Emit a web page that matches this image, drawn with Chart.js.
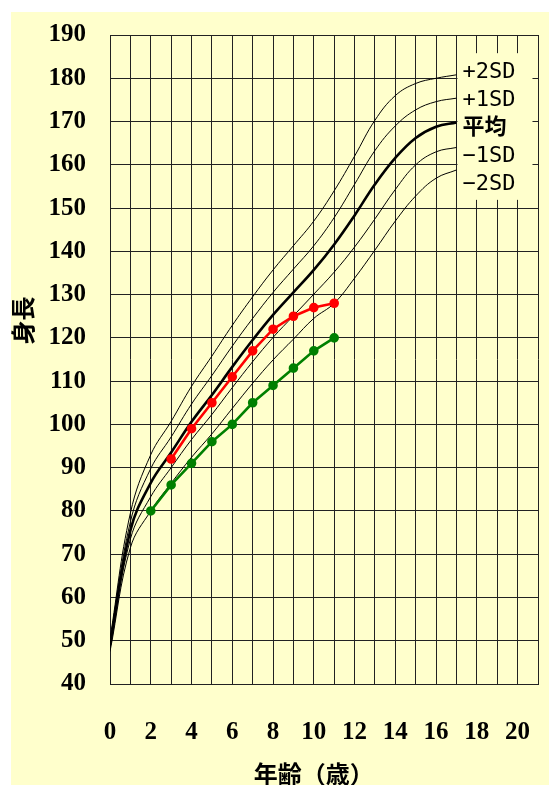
<!DOCTYPE html>
<html lang="ja">
<head>
<meta charset="utf-8">
<title>身長</title>
<script src="https://cdn.jsdelivr.net/npm/chart.js@4/dist/chart.umd.min.js"></script>
<style>
    html, body { margin: 0; padding: 0; background: #fff; }
    #wrap { position: absolute; left: 11px; top: 12px; width: 538px; height: 773px; background: #ffffcc; }
</style>
</head>
<body>
<div id="wrap"><canvas id="canvas"></canvas></div>
<script>
// Age (years) for the reference curves
const ages = [0, 1, 2, 3, 4, 5, 6, 7, 8, 9, 10, 11, 12, 13, 14, 15, 16, 17]

// Reference curves, cm
const plus2sd = [50.5, 79.5, 93.0, 100.7, 108.8, 115.8, 122.9, 129.5, 135.7, 141.3, 147.0, 154.0, 162.0, 170.3, 176.0, 178.8, 180.0, 180.8]
const plus1sd = [49.8, 77.5, 89.8, 97.1, 104.7, 111.3, 118.1, 124.5, 130.5, 135.9, 141.3, 147.8, 155.5, 163.3, 169.0, 172.7, 174.6, 175.4]
const average = [49.0, 75.5, 86.5, 93.5, 100.6, 106.8, 113.3, 119.5, 125.3, 130.5, 135.7, 141.6, 148.3, 155.5, 161.6, 166.2, 168.8, 169.8]
const minus1sd = [48.2, 73.5, 83.3, 90.0, 96.5, 102.3, 108.5, 114.5, 120.1, 125.1, 130.1, 135.2, 141.0, 147.5, 154.3, 160.0, 163.0, 164.0]
const minus2sd = [47.5, 71.5, 80.0, 86.4, 92.4, 97.8, 103.7, 109.5, 114.9, 119.7, 124.5, 128.0, 133.8, 140.3, 147.0, 152.8, 156.9, 158.8]

// Measured children
const redAges = [3, 4, 5, 6, 7, 8, 9, 10, 11]
const redHeights = [92, 99, 105, 111, 117, 122, 125, 127, 128]
const greenAges = [2, 3, 4, 5, 6, 7, 8, 9, 10, 11]
const greenHeights = [80, 86, 91, 96, 100, 105, 109, 113, 117, 120]

// Axis labels
const xTickLabels = [0, 2, 4, 6, 8, 10, 12, 14, 16, 18, 20]
const curveLabels = ['+2SD', '+1SD', '平均', '−1SD', '−2SD']
const yTitle = '身長'
const xTitle = '年齢（歳）'

Chart.defaults.animation = false
Chart.defaults.color = '#000'
Chart.defaults.plugins.legend.display = false
Chart.defaults.plugins.tooltip.enabled = false

function points(xs, ys) {
    return xs.map((x, i) => ({ x, y: ys[i] }))
}

function curve(values, width) {
    return {
        data: points(ages, values),
        borderColor: '#000',
        borderWidth: width,
        pointRadius: 0,
        tension: 0.4,
    }
}

// Text on the chart: curve names box and axis titles
const textPlugin = {
    id: 'texts',
    afterDatasetsDraw(chart) {
        const { ctx, scales: { x, y } } = chart
        const left = x.getPixelForValue(17)
        const top = y.getPixelForValue(185.8)
        const bottom = y.getPixelForValue(151.9)

        ctx.save()
        ctx.fillStyle = '#ffffcc'
        ctx.fillRect(left + 1, top, 75, bottom - top)

        ctx.fillStyle = '#000'
        ctx.textBaseline = 'middle'
        ctx.textAlign = 'left'
        curveLabels.forEach((label, i) => {
            const bold = label === '平均' ? 'bold ' : ''
            ctx.font = bold + '22px "DejaVu Sans Mono", "Noto Sans CJK JP", monospace'
            ctx.fillText(label, left + 6, top + 19 + i * 28)
        })

        ctx.font = 'bold 24px "Noto Sans CJK JP", sans-serif'
        ctx.textAlign = 'center'
        ctx.fillText(xTitle, x.getPixelForValue(10), 762)

        ctx.translate(12, y.getPixelForValue(124))
        ctx.rotate(-Math.PI / 2)
        ctx.fillText(yTitle, 0, 0)
        ctx.restore()
    },
}

window.addEventListener('DOMContentLoaded', () => {
    const canvas = document.querySelector('#canvas')
    const tickFont = { family: '"Liberation Serif", "Times New Roman", serif', size: 25, weight: 'bold' }

    new Chart(canvas, {
        type: 'line',
        data: {
            datasets: [
                {
                    data: points(redAges, redHeights),
                    borderColor: '#ff0000',
                    backgroundColor: '#ff0000',
                    borderWidth: 2.6,
                    pointRadius: 3.5,
                },
                {
                    data: points(greenAges, greenHeights),
                    borderColor: '#008000',
                    backgroundColor: '#008000',
                    borderWidth: 2.6,
                    pointRadius: 3.5,
                },
                curve(average, 2.6),
                curve(plus2sd, 1),
                curve(plus1sd, 1),
                curve(minus1sd, 1),
                curve(minus2sd, 1),
            ],
        },
        options: {
            responsive: true,
            maintainAspectRatio: false,
            layout: { padding: { top: 23, right: 11, left: 0, bottom: 0 } },
            scales: {
                x: {
                    type: 'linear',
                    min: 0,
                    max: 21,
                    afterFit: scale => {
                        scale.height = 101
                        scale.paddingLeft = 0
                        scale.paddingRight = 0
                    },
                    grid: { color: '#222', lineWidth: 1, drawTicks: false },
                    border: { color: '#222' },
                    ticks: {
                        stepSize: 1,
                        autoSkip: false,
                        maxRotation: 0,
                        padding: 34,
                        font: tickFont,
                        callback: v => xTickLabels.includes(v) ? v : '',
                    },
                },
                y: {
                    min: 40,
                    max: 190,
                    afterFit: scale => {
                        scale.width = 99
                        scale.paddingTop = 0
                        scale.paddingBottom = 0
                    },
                    grid: { color: '#222', lineWidth: 1, drawTicks: false },
                    border: { color: '#222' },
                    ticks: { stepSize: 10, padding: 24, font: tickFont },
                },
            },
        },
        plugins: [textPlugin],
    })
})
</script>
</body>
</html>
